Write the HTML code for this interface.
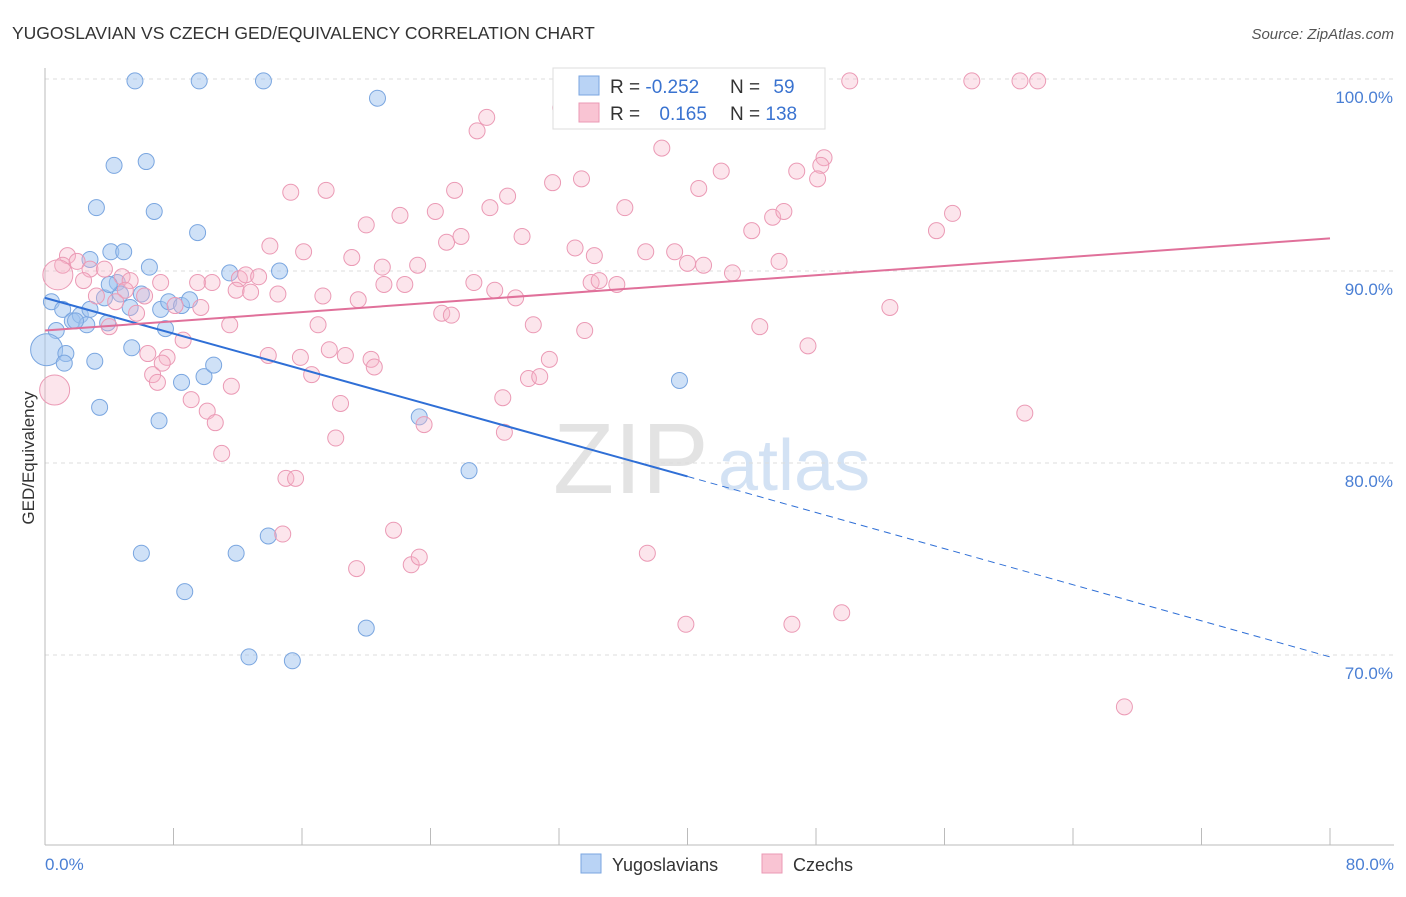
<!DOCTYPE html>
<html><head><meta charset="utf-8"><style>
body{margin:0;background:#fff;font-family:"Liberation Sans",sans-serif;}
svg text{font-family:"Liberation Sans",sans-serif;}
</style></head><body>
<svg id="chart" width="1406" height="892" xmlns="http://www.w3.org/2000/svg">
<text x="12" y="39" font-size="17.5" fill="#333">YUGOSLAVIAN VS CZECH GED/EQUIVALENCY CORRELATION CHART</text>
<text x="1394" y="39" font-size="15" fill="#555" text-anchor="end" font-style="italic">Source: ZipAtlas.com</text>
<g><text x="553" y="493" font-size="100" fill="#ddd" font-family="Liberation Serif" opacity="0.8">ZIP</text><text x="718" y="490" font-size="72" fill="#c9dbf2" opacity="0.8">atlas</text></g>
<g id="grid"></g><g id="axes"></g><g id="pts"></g><g id="trend"></g>
<text transform="translate(34,458) rotate(-90)" font-size="17" fill="#333" text-anchor="middle">GED/Equivalency</text>
<text x="45" y="870" font-size="17" fill="#4a7fd4">0.0%</text>
<text x="1394" y="870" font-size="17" fill="#4a7fd4" text-anchor="end">80.0%</text>
<g>
<rect x="553" y="68" width="272" height="61" fill="#fff" stroke="#ddd"/>
<rect x="579" y="76" width="20" height="19" fill="#b9d3f5" stroke="#7aa6e0"/>
<rect x="579" y="103" width="20" height="19" fill="#f9c4d3" stroke="#eb9ab5"/>
<text x="610" y="93" font-size="19" fill="#333">R = <tspan fill="#3a73d0">-0.252</tspan></text>
<text x="730" y="93" font-size="19" fill="#333">N = <tspan fill="#3a73d0" dx="8">59</tspan></text>
<text x="610" y="120" font-size="19" fill="#333">R = <tspan fill="#3a73d0" dx="14">0.165</tspan></text>
<text x="730" y="120" font-size="19" fill="#333">N = <tspan fill="#3a73d0">138</tspan></text>
</g>
<g>
<rect x="581" y="854" width="20" height="19" fill="#b9d3f5" stroke="#7aa6e0"/>
<text x="612" y="871" font-size="18" fill="#333">Yugoslavians</text>
<rect x="762" y="854" width="20" height="19" fill="#f9c4d3" stroke="#eb9ab5"/>
<text x="793" y="871" font-size="18" fill="#333">Czechs</text>
</g>
</svg>
<script>
const yTicks=[70,80,90,100];
const yTickLabels=["70.0%","80.0%","90.0%","100.0%"];
const xTicks=[0,8,16,24,32,40,48,56,64,72,80];
const blueX=[5.6,9.6,13.6,20.7,4.3,6.3,3.2,6.8,9.5,4.1,4.9,2.8,6.5,11.5,14.6,0.4,4.5,6.0,3.7,4.7,1.1,7.2,7.7,8.5,9.0,5.3,1.7,2.2,2.6,0.7,0.1,1.3,1.2,3.1,5.4,7.5,3.9,8.5,9.9,10.5,3.4,7.1,23.3,26.4,39.5,6.0,11.9,13.9,8.7,20.0,12.7,15.4,1.9,2.8,4.0];
const blueY=[99.9,99.9,99.9,99.0,95.5,95.7,93.3,93.1,92.0,91.0,91.0,90.6,90.2,89.9,90.0,88.4,89.4,88.8,88.6,88.8,88.0,88.0,88.4,88.2,88.5,88.1,87.4,87.7,87.2,86.9,85.9,85.7,85.2,85.3,86.0,87.0,87.3,84.2,84.5,85.1,82.9,82.2,82.4,79.6,84.3,75.3,75.3,76.2,73.3,71.4,69.9,69.7,87.4,88.0,89.3];
const blueBig=[30];
const pinkX=[32.1,50.1,57.7,60.7,61.8,27.5,26.9,38.4,48.5,48.3,46.8,48.1,42.1,31.6,33.4,40.7,15.3,17.5,25.5,28.8,36.1,27.7,22.1,24.3,20.0,45.3,46.0,56.5,55.5,44.0,25.0,25.9,29.7,33.0,34.2,37.4,39.2,40.0,41.0,42.8,45.7,14.0,16.1,19.1,21.0,23.2,22.4,21.1,26.7,28.0,29.3,34.0,34.5,35.6,52.6,1.4,1.1,2.0,2.8,3.7,4.8,0.8,2.4,5.3,7.2,9.5,10.4,12.1,12.5,13.3,11.9,12.8,14.5,17.3,19.5,3.2,5.0,6.2,9.7,8.1,4.0,5.7,11.5,17.0,24.7,25.3,30.4,33.6,44.5,47.5,6.4,7.6,8.6,13.9,15.9,17.7,18.7,20.3,20.5,16.6,6.7,7.0,9.1,10.1,10.6,11.6,18.4,28.5,30.1,30.8,31.4,18.1,28.6,23.6,11.0,15.0,15.6,21.7,14.8,19.4,22.8,23.3,37.5,39.9,46.5,49.6,61.0,67.2,0.6,7.3,4.4];
const pinkY=[98.5,99.9,99.9,99.9,99.9,98.0,97.3,96.4,95.9,95.5,95.2,94.8,95.2,94.6,94.8,94.3,94.1,94.2,94.2,93.9,93.3,93.3,92.9,93.1,92.4,92.8,93.1,93.0,92.1,92.1,91.5,91.8,91.8,91.2,90.8,91.0,91.0,90.4,90.3,89.9,90.5,91.3,91.0,90.7,90.2,90.3,89.3,89.3,89.4,89.0,88.6,89.4,89.5,89.3,88.1,90.8,90.3,90.5,90.1,90.1,89.7,89.8,89.5,89.5,89.4,89.4,89.4,89.6,89.8,89.7,89.0,88.9,88.8,88.7,88.5,88.7,89.0,88.7,88.1,88.2,87.1,87.8,87.2,87.2,87.8,87.7,87.2,86.9,87.1,86.1,85.7,85.5,86.4,85.6,85.5,85.9,85.6,85.4,85.0,84.6,84.6,84.2,83.3,82.7,82.1,84.0,83.1,83.4,84.4,84.5,85.4,81.3,81.6,82.0,80.5,79.2,79.2,76.5,76.3,74.5,74.7,75.1,75.3,71.6,71.6,72.2,82.6,67.3,83.8,85.2,88.4];
const pinkBig=[61,128];
const blueTrendX=[0,40,80];
const blueTrendY=[88.6,79.3,69.9];
const pinkTrendX=[0,80];
const pinkTrendY=[86.9,91.7];
const NS="http://www.w3.org/2000/svg";
const X0=45,X1=1330,Y100=79,PX10=192;
function sx(v){return X0+(X1-X0)*v/80;}
function sy(v){return Y100+(100-v)*PX10/10;}
function mk(t,a,p){const e=document.createElementNS(NS,t);for(const k in a)e.setAttribute(k,a[k]);p.appendChild(e);return e;}
const grid=document.getElementById('grid'),axes=document.getElementById('axes'),pts=document.getElementById('pts'),trend=document.getElementById('trend');
yTicks.forEach((t,i)=>{
 const l=mk('line',{x1:X0,x2:1394,y1:sy(t),y2:sy(t),stroke:'#ddd','stroke-dasharray':'4,4'},grid);
 
 
 const tx=mk('text',{x:1393,y:sy(t)+24,'font-size':17,fill:'#4a7fd4','text-anchor':'end'},grid);
 tx.textContent=yTickLabels[i];
 
 
});
const ya=mk('line',{x1:X0,x2:X0,y1:68,y2:845,stroke:'#bbb'},axes);


const xa=mk('line',{x1:X0,x2:1394,y1:845,y2:845,stroke:'#bbb'},axes);


xTicks.forEach(t=>{
 const l=mk('line',{x1:sx(t),x2:sx(t),y1:828,y2:845,stroke:'#bbb'},axes);
 
 
});
blueX.forEach((x,i)=>{
 const r=blueBig.includes(i)?16:8;
 const c=mk('circle',{cx:sx(x),cy:sy(blueY[i]),r:r,fill:'rgba(160,196,240,0.5)',stroke:'#7aa6e0','stroke-width':1},pts);
 
 
});
pinkX.forEach((x,i)=>{
 const r=pinkBig.includes(i)?15:8;
 const c=mk('circle',{cx:sx(x),cy:sy(pinkY[i]),r:r,fill:'rgba(245,180,200,0.35)',stroke:'#eb9ab5','stroke-width':1},pts);
 
 
});
const b1=mk('line',{x1:sx(blueTrendX[0]),y1:sy(blueTrendY[0]),x2:sx(blueTrendX[1]),y2:sy(blueTrendY[1]),stroke:'#2f6fd6','stroke-width':2},trend);


const b2=mk('line',{x1:sx(blueTrendX[1]),y1:sy(blueTrendY[1]),x2:sx(blueTrendX[2]),y2:sy(blueTrendY[2]),stroke:'#2f6fd6','stroke-width':1,'stroke-dasharray':'7,5'},trend);


const p1=mk('line',{x1:sx(pinkTrendX[0]),y1:sy(pinkTrendY[0]),x2:sx(pinkTrendX[1]),y2:sy(pinkTrendY[1]),stroke:'#e0709a','stroke-width':2},trend);


</script>
</body></html>
